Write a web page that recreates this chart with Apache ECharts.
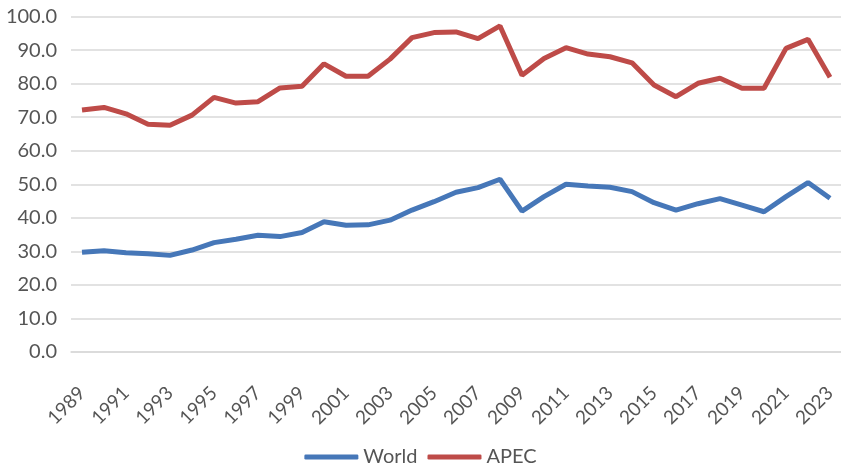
<html>
<head>
    <meta http-equiv="Content-Type" content="text/html; charset=utf-8" />
    <script type="text/javascript" src="https://cdn.jsdelivr.net/npm/echarts@6/dist/echarts.min.js"></script>
</head>
<body style="margin:0">
<div id="main" style="width: 841px;height:472px;"></div>
<script type="text/javascript">
    // years on the x axis
    var years = [];
    for (var y = 1989; y <= 2023; y++) { years.push(String(y)); }

    var world = [29.7, 30.2, 29.6, 29.3, 28.8, 30.4, 32.6, 33.6, 34.8, 34.4,
        35.6, 38.8, 37.8, 37.9, 39.3, 42.3, 44.8, 47.6, 49.0, 51.5,
        42.0, 46.3, 50.0, 49.5, 49.1, 47.8, 44.5, 42.3, 44.2, 45.7,
        43.8, 41.8, 46.3, 50.5, 45.8];

    var apec = [72.1, 72.9, 71.0, 67.9, 67.6, 70.6, 75.9, 74.2, 74.6, 78.7,
        79.2, 85.9, 82.2, 82.2, 87.3, 93.7, 95.2, 95.4, 93.4, 97.2,
        82.5, 87.5, 90.7, 88.8, 88.0, 86.2, 79.6, 76.1, 80.1, 81.6,
        78.6, 78.6, 90.5, 93.2, 81.9];

    var txt = '#555555';
    var font = 'Lato';

    var myChart = echarts.init(document.getElementById('main'));
    var option = {
        animation: false,
        grid: { left: 71, right: -8, top: 16.5, bottom: 120 },
        legend: {
            bottom: 0,
            left: 'center',
            itemWidth: 54,
            itemHeight: 5,
            itemGap: 10,
            icon: 'roundRect',
            textStyle: { color: txt, fontSize: 20, fontFamily: font },
            data: ['World', 'APEC']
        },
        xAxis: {
            type: 'category',
            data: years,
            boundaryGap: true,
            axisTick: { show: false },
            axisLine: { show: true, lineStyle: { color: '#d9d9d9', width: 1.5 } },
            axisLabel: {
                interval: 1,
                rotate: 45,
                margin: 38,
                color: txt,
                fontSize: 19,
                fontFamily: font
            }
        },
        yAxis: {
            type: 'value',
            min: 0,
            max: 100,
            interval: 10,
            axisLine: { show: false },
            axisTick: { show: false },
            splitLine: { lineStyle: { color: '#d9d9d9', width: 1.5 } },
            axisLabel: {
                margin: 14,
                color: txt,
                fontSize: 20,
                fontFamily: font,
                formatter: function (v) { return v.toFixed(1); }
            }
        },
        series: [
            {
                name: 'World',
                type: 'line',
                data: world,
                symbol: 'none',
                lineStyle: { width: 5, color: '#4677B8' },
                itemStyle: { color: '#4677B8' }
            },
            {
                name: 'APEC',
                type: 'line',
                data: apec,
                symbol: 'none',
                lineStyle: { width: 5, color: '#BE4B48' },
                itemStyle: { color: '#BE4B48' }
            }
        ]
    };
    myChart.setOption(option);
</script>
</body>
</html>
